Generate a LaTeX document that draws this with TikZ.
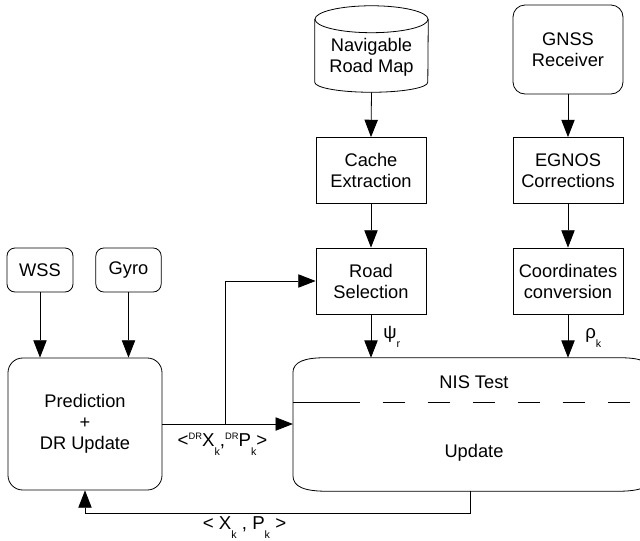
\documentclass[tikz,border=0pt]{standalone}
\usepackage{fontspec}
\setmainfont{Liberation Sans}
\usetikzlibrary{arrows.meta,calc}

\newcommand{\lsub}[1]{\raisebox{-7pt}{\fontsize{8}{8}\selectfont #1}}
\newcommand{\lsup}[1]{\raisebox{5pt}{\fontsize{7}{7}\selectfont #1}}

\begin{document}
\begin{tikzpicture}[x=0.75pt,y=-0.75pt]
   \tikzstyle{every node}=[font=\fontsize{13.7}{15.8}\selectfont, align=center, inner sep=0pt]
   \tikzstyle{block}=[draw, line width=0.6pt, minimum width=82.5pt, minimum height=49.5pt]
   \tikzstyle{rblock}=[block, rounded corners=9pt]
   \tikzstyle{lbl}=[font=\fontsize{14}{16}\selectfont, anchor=base]
   \tikzstyle{link}=[line width=0.6pt, -{Triangle[length=13pt,width=10pt]}]
   \useasboundingbox (0,0) rectangle (640,540);

% road map database
\node[minimum width=84.75pt, minimum height=64.5pt] (map) at (371.5,49) {};
\node (maptxt) at ($(map.center)+(0,8)$) {Navigable\\Road Map};
\draw[line width=0.6pt] ($(map.north)+(0,13.5)$) ellipse [x radius=42.4pt, y radius=10.1pt];
\draw[line width=0.6pt] ($(map.north west)+(0,13.5)$) -- ($(map.south west)+(0,-10)$)
   arc [start angle=180, end angle=360, x radius=42.4pt, y radius=7.5pt] -- ($(map.north east)+(0,13.5)$);

\node[rblock, minimum height=66.75pt] (gnss) at (568,49.5) {GNSS\\Receiver};
\node[block] (cache) at (371,170.5) {Cache\\Extraction};
\node[block] (egnos) at (568,170.5) {EGNOS\\Corrections};
\node[block] (road) at (371,281) {Road\\Selection};
\node[block] (coord) at (568,281) {Coordinates\\conversion};
\node[rblock, rounded corners=6pt, minimum width=49.5pt, minimum height=33pt] (wss) at (40,270) {WSS};
\node[rblock, rounded corners=6pt, minimum width=49pt, minimum height=33pt] (gyro) at (128.5,270) {Gyro};
\node[rblock, rounded corners=11pt, minimum width=115.5pt, minimum height=99pt] (pred) at (85,424) {Prediction\\+\\DR Update};

% NIS test / update block
\node[minimum width=269pt, minimum height=99.75pt] (nis) at (472.5,424.5) {};
\node (nistest) at (474,382) {NIS Test};
\node (upd) at (474,453) {Update};
\draw[line width=0.6pt] ($(nis.north west)+(0,15)$) .. controls ($(nis.north west)+(0,4)$) and ($(nis.north west)+(12,0)$) .. ($(nis.north west)+(32,0)$)
   -- ($(nis.north east)+(-32,0)$) .. controls ($(nis.north east)+(-12,0)$) and ($(nis.north east)+(0,4)$) .. ($(nis.north east)+(0,15)$)
   -- ($(nis.south east)+(0,-16)$) .. controls ($(nis.south east)+(0,-4)$) and ($(nis.south east)+(-12,0)$) .. ($(nis.south east)+(-35,0)$)
   -- ($(nis.south west)+(35,0)$) .. controls ($(nis.south west)+(12,0)$) and ($(nis.south west)+(0,-4)$) .. ($(nis.south west)+(0,-16)$)
   -- cycle;
\draw[line width=0.6pt, dash pattern=on 50.25pt off 17.25pt on 16.5pt off 17.25pt on 16.5pt off 17.25pt on 16.5pt off 17.25pt on 16.5pt off 17.25pt on 16.5pt off 17.25pt on 16.5pt off 17.25pt]
   ($(nis.west)+(0,-22.5)$) -- ($(nis.east)+(0,-22.5)$);

% labels
\node[lbl] (drlbl) at (222.5,446) {<\lsup{DR}X\lsub{k},\lsup{DR}P\lsub{k}>};
\node[lbl] (fblbl) at (244.5,529) {< X\lsub{k} , P\lsub{k} >};
\node[lbl, anchor=base west] (psi) at (383,338) {ψ\lsub{r}};
\node[lbl, anchor=base west] (rho) at (585,338) {ρ\lsub{k}};

% connectors
\coordinate (br) at ($(pred.east)+(63,0)$);
\draw[link] (map.south) -- (cache.north);
\draw[link] (cache.south) -- (road.north);
\draw[link] (gnss.south) -- (egnos.north);
\draw[link] (egnos.south) -- (coord.north);
\draw[link] (road.south) -- (road.south |- nis.north);
\draw[link] (coord.south) -- (coord.south |- nis.north);
\draw[link] (wss.south) -- (wss.south |- pred.north);
\draw[link] (gyro.south) -- (gyro.south |- pred.north);
\draw[link] (pred.east) -- (pred.east -| nis.west);
\draw[link] (br) |- (road.west);
\draw[link] ($(nis.south)+(-2,0)$) -- ++(0,22) -| (pred.south);

\end{tikzpicture}
\end{document}
